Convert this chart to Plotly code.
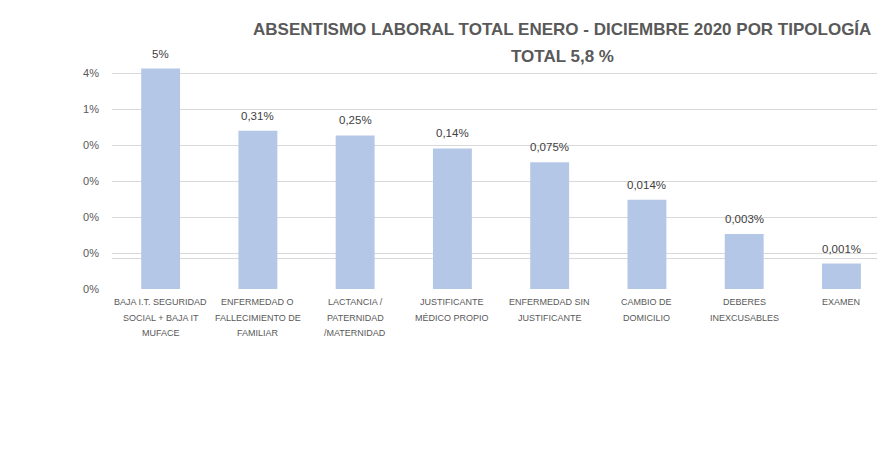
import math
import plotly.graph_objects as go

categories = [
    "BAJA I.T. SEGURIDAD<br>SOCIAL + BAJA IT<br>MUFACE",
    "ENFERMEDAD O<br>FALLECIMIENTO DE<br>FAMILIAR",
    "LACTANCIA /<br>PATERNIDAD<br>/MATERNIDAD",
    "JUSTIFICANTE<br>MÉDICO PROPIO",
    "ENFERMEDAD SIN<br>JUSTIFICANTE",
    "CAMBIO DE<br>DOMICILIO",
    "DEBERES<br>INEXCUSABLES",
    "EXAMEN",
]
values_pct = [5, 0.31, 0.25, 0.14, 0.075, 0.014, 0.003, 0.0008]
value_labels = ["5%", "0,31%", "0,25%", "0,14%", "0,075%", "0,014%", "0,003%", "0,001%"]
y_tickvals = [4, 0.8, 0.16, 0.032, 0.0064, 0.001, 0.00128, 0.000256]
y_ticktext = ["4%", "1%", "0%", "0%", "0%", "", "0%", "0%"]
title_line1 = "ABSENTISMO LABORAL TOTAL ENERO - DICIEMBRE 2020 POR TIPOLOGÍA"
title_line2 = "TOTAL 5,8 %"

# the page body adds an 8px offset; the figure is sized to fill the rest of the window
OFF = 8
W, H = 885 - OFF, 472 - OFF
ml, mr, mt, mb = 104, 0, 32, 183
plot_w = W - ml - mr
plot_h = H - mt - mb
px_per_decade = 35.9 / math.log10(5)
ymin = math.log10(min(y_tickvals))
ymax = ymin + plot_h / px_per_decade
cat_px = 97.26
xmax = plot_w / cat_px - 0.5

grey = "#595959"
font_main = "Liberation Sans, Arial, sans-serif"

x_idx = list(range(len(categories)))

fig = go.Figure()
fig.add_trace(go.Bar(
    x=x_idx, y=values_pct, width=0.4,
    marker=dict(color="#b4c7e7", line=dict(width=0)),
    hoverinfo="skip",
))

# value labels above the bars
for i, (v, lab) in enumerate(zip(values_pct, value_labels)):
    fig.add_annotation(
        x=i, y=math.log10(v), text=lab, showarrow=False,
        yanchor="bottom", yshift=7,
        font=dict(family=font_main, size=11.5, color="#404040"),
    )

# category labels (one annotation per line to match the line spacing)
for i, cat in enumerate(categories):
    for k, line in enumerate(cat.split("<br>")):
        fig.add_annotation(
            x=i, xref="x", y=0, yref="paper", text=line, showarrow=False,
            yanchor="middle", yshift=-(13 + 15.5 * k),
            font=dict(family=font_main, size=9, color=grey),
        )

# title lines (paper coords are relative to the plot area)
title_x = (562 - OFF - ml) / plot_w
for txt, ywin in ((title_line1, 30), (title_line2, 57)):
    fig.add_annotation(
        x=title_x, xref="paper", y=1 - (ywin - OFF - mt) / plot_h, yref="paper",
        yanchor="middle", xanchor="center", showarrow=False,
        text=f"<b>{txt}</b>",
        font=dict(family=font_main, size=17, color=grey),
    )

fig.update_layout(
    width=W, height=H,
    margin=dict(l=ml, r=mr, t=mt, b=mb, autoexpand=False),
    plot_bgcolor="white", paper_bgcolor="white",
    showlegend=False,
    xaxis=dict(
        range=[-0.5, xmax],
        showticklabels=False,
        showgrid=False, zeroline=False, showline=False, ticks="",
    ),
    yaxis=dict(
        type="log", range=[ymin, ymax],
        tickmode="array", tickvals=y_tickvals, ticktext=y_ticktext,
        tickfont=dict(family=font_main, size=11, color=grey),
        showgrid=True, gridcolor="#d9d9d9", gridwidth=1,
        zeroline=False, showline=False, ticks="", ticklabelstandoff=12,
        automargin=False,
    ),
)

fig.write_html("out.html")
